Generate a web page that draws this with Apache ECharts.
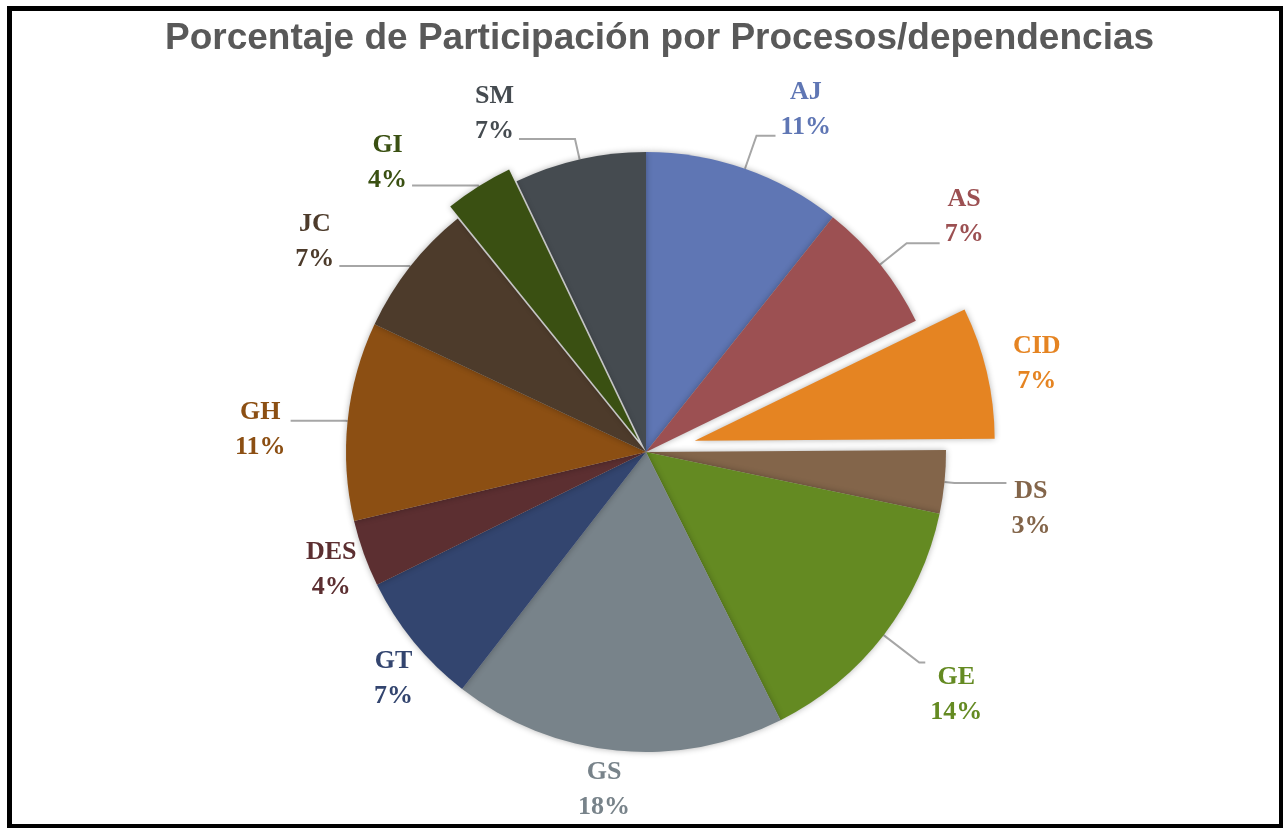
<!DOCTYPE html>
<html>
<head>
<meta charset="utf-8">
<title>Porcentaje de Participación</title>
<script src="https://cdn.jsdelivr.net/npm/echarts@6/dist/echarts.min.js"></script>
<style>
  html, body { margin: 0; padding: 0; background: #ffffff; }
  #chart { position: absolute; left: 0; top: 0; width: 1283px; height: 828px; }
  #frame {
    position: absolute; left: 7px; top: 6px; width: 1277px; height: 823px;
    border: 5px solid #000; box-sizing: border-box; pointer-events: none;
  }
</style>
</head>
<body>
<div id="chart"></div>
<div id="frame"></div>
<script>
// datos del gráfico (porcentaje por proceso/dependencia)
const categories = ['AJ', 'AS', 'CID', 'DS', 'GE', 'GS', 'GT', 'DES', 'GH', 'JC', 'GI', 'SM'];
const percentages = [10.7, 7.1, 7.1, 3.4, 14.3, 17.9, 7.2, 3.6, 10.7, 7.2, 3.7, 7.1];

// colores de cada porción
const colors = ['#5F76B4', '#9C5052', '#E58422', '#83654A', '#648A22', '#78838A',
                '#33456F', '#5C2F31', '#8C4F13', '#4D3B2B', '#3A5012', '#454B50'];

// porciones separadas y su desplazamiento
const exploded = { CID: 50, GI: 14 };

// ajustes de las líneas guía de las etiquetas
const lineLen  = [35, 34, 36, 10, 45, 39, 59, 48, 2, 1, 1, 21];
const lineLen2 = [19, 33, -14, 52, 6, -22, -50, -43, 55, 70, 66, 56];
const lineShow = [true, true, false, true, true, false, false, false, true, true, true, true];
const labelPad = [
  [0, 0, 52, 0], [0, 0, 52, 0], 0, [52, 0, 0, 0], [65, 0, 0, 0], 0,
  0, 0, [18, 0, 0, 0], [0, 0, 48, 0], [0, 0, 46, 0], [0, 0, 50, 0]
];

const labelFont = {
  fontFamily: '"Liberation Serif", "Times New Roman", serif',
  fontSize: 26,
  fontWeight: 'bold',
  lineHeight: 35,
  align: 'center'
};

// una serie por grupo: normal, o una sola porción separada
const buildSeries = (only, offset) => ({
  type: 'pie',
  center: [646, 452],
  radius: 300,
  startAngle: 90,
  clockwise: true,
  selectedMode: 'multiple',
  selectedOffset: offset,
  avoidLabelOverlap: false,
  animation: false,
  itemStyle: {
    shadowBlur: 6,
    shadowColor: 'rgba(0, 0, 0, 0.3)'
  },
  label: {
    position: 'outside',
    distanceToLabelLine: 5,
    formatter: p => '{n|' + p.name + '}\n{p|' + Math.round(p.value) + '%}',
    rich: { n: labelFont, p: labelFont }
  },
  labelLine: {
    lineStyle: { color: '#A6A6A6', width: 2 }
  },
  emphasis: { disabled: true },
  data: categories.map((name, i) => {
    const visible = only ? name === only : !(name in exploded);
    return {
      name: name,
      value: percentages[i],
      selected: !!only && visible,
      itemStyle: { color: colors[i], opacity: visible ? 1 : 0 },
      label: { show: visible, color: colors[i], padding: labelPad[i] },
      labelLine: {
        show: visible && lineShow[i],
        length: lineLen[i],
        length2: lineLen2[i]
      }
    };
  })
});

const chart = echarts.init(document.getElementById('chart'));
chart.setOption({
  backgroundColor: '#ffffff',
  animation: false,
  title: {
    text: 'Porcentaje de Participación por Procesos/dependencias',
    left: 165,
    top: 20,
    padding: 0,
    textStyle: {
      fontFamily: '"Liberation Sans", Arial, sans-serif',
      fontSize: 37,
      fontWeight: 'bold',
      color: '#595959'
    }
  },
  series: [
    buildSeries(null, 0),
    buildSeries('CID', exploded.CID),
    buildSeries('GI', exploded.GI)
  ]
});
</script>
</body>
</html>
